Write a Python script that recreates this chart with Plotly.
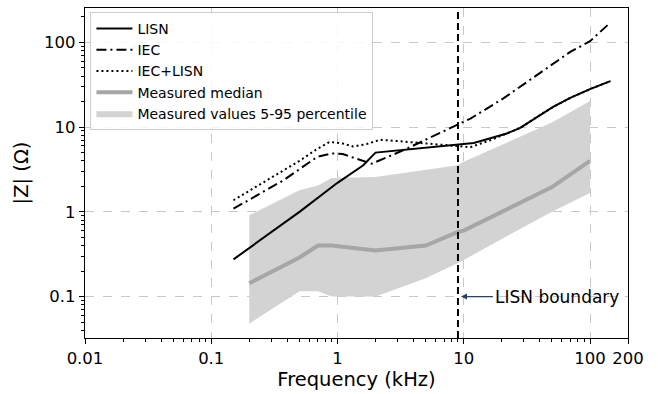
import numpy as np
import plotly.graph_objects as go

# ---- data ----
freq_lisn = [0.15, 0.5, 1.0, 1.6, 2.0, 4.0, 8.0, 12.0, 16.0, 21.9, 28.0, 37.9, 51.0, 69.7, 100.0, 145.0]
z_lisn = [0.275, 1.0, 2.2, 3.55, 5.0, 5.5, 6.1, 6.5, 7.35, 8.4, 9.8, 13.2, 17.3, 22.1, 28.1, 34.9]

freq_iec = [0.15, 0.37, 0.69, 0.9, 1.1, 1.33, 1.87, 3.3, 6.5, 9.1, 11.3, 20.6, 37.9, 69.7, 100.0, 140.0]
z_iec = [1.09, 2.34, 4.45, 4.9, 4.8, 4.4, 3.7, 5.3, 8.5, 10.8, 12.6, 21.8, 41.0, 77.0, 103.0, 163.0]

freq_iec_lisn = [0.15, 0.5, 0.7, 0.87, 1.1, 1.33, 1.7, 2.18, 4.5, 8.2, 11.3, 16.2, 21.9, 28.0, 37.9, 51.0, 69.7, 100.0, 145.0]
z_iec_lisn = [1.37, 4.0, 5.6, 6.7, 6.4, 5.9, 6.3, 7.1, 6.5, 6.1, 5.8, 7.0, 8.35, 9.75, 13.15, 17.25, 22.05, 28.05, 34.85]

freq_meas = [0.2, 0.5, 0.7, 0.9, 2.0, 5.0, 9.0, 10.0, 20.0, 50.0, 100.0]
z_median = [0.144, 0.29, 0.40, 0.40, 0.35, 0.40, 0.58, 0.60, 1.0, 1.96, 4.0]
z_p05 = [0.048, 0.116, 0.116, 0.10, 0.10, 0.165, 0.25, 0.27, 0.48, 1.0, 1.67]
z_p95 = [0.91, 1.8, 2.05, 2.5, 2.58, 3.1, 3.55, 3.9, 6.2, 11.3, 20.3]

lisn_boundary_khz = 9.0
boundary_label_y = 0.1
boundary_label_x = 17.0

x_tick_vals = [0.01, 0.1, 1, 10, 100, 200]
x_tick_text = ["0.01", "0.1", "1", "10", "100", "200"]
y_tick_vals = [0.1, 1, 10, 100]
y_tick_text = ["0.1", "1", "10", "100"]

x_range = [0.01, 200]
y_range = [0.0325, 254]

FONT = "DejaVu Sans"

fig = go.Figure()

# percentile band
fig.add_trace(go.Scatter(x=freq_meas, y=z_p05, mode="lines", line=dict(width=0, color="#d3d3d3"),
                         showlegend=False, hoverinfo="skip"))
fig.add_trace(go.Scatter(x=freq_meas, y=z_p95, mode="lines", line=dict(width=0, color="#d3d3d3"),
                         fill="tonexty", fillcolor="#d3d3d3",
                         name="Measured values 5-95 percentile", legendrank=5))
fig.add_trace(go.Scatter(x=freq_meas, y=z_median, mode="lines", line=dict(width=4, color="#a6a6a6"),
                         name="Measured median", legendrank=4))
fig.add_trace(go.Scatter(x=freq_iec_lisn, y=z_iec_lisn, mode="lines",
                         line=dict(width=2, color="black", dash="2px,3px"),
                         name="IEC+LISN", legendrank=3))
fig.add_trace(go.Scatter(x=freq_iec, y=z_iec, mode="lines",
                         line=dict(width=2, color="black", dash="10px,4px,2px,4px"),
                         name="IEC", legendrank=2))
fig.add_trace(go.Scatter(x=freq_lisn, y=z_lisn, mode="lines", line=dict(width=2, color="black"),
                         name="LISN", legendrank=1))

# LISN boundary
fig.add_shape(type="line", xref="x", yref="paper", x0=lisn_boundary_khz, x1=lisn_boundary_khz,
              y0=0, y1=1, line=dict(color="black", width=2, dash="7px,4px"))
fig.add_annotation(x=np.log10(lisn_boundary_khz), y=np.log10(boundary_label_y),
                   ax=np.log10(boundary_label_x), ay=np.log10(boundary_label_y),
                   axref="x", ayref="y", xref="x", yref="y",
                   text="LISN boundary", showarrow=True, arrowhead=2, arrowsize=1, arrowwidth=1.2,
                   standoff=3, xanchor="left", yanchor="middle",
                   font=dict(family=FONT, size=17, color="black"))

minor_x = [m * 10.0 ** e for e in range(-2, 3) for m in range(2, 10) if m * 10.0 ** e < 200]
minor_y = [m * 10.0 ** e for e in range(-2, 3) for m in range(2, 10) if y_range[0] < m * 10.0 ** e < y_range[1]]

axis_common = dict(type="log", showline=True, linecolor="black", linewidth=1.2, mirror=True,
                   ticks="outside", ticklen=5, tickcolor="black", tickwidth=1,
                   showgrid=True, gridcolor="#c8c8c8", griddash="dash", gridwidth=1,
                   zeroline=False, tickfont=dict(family=FONT, size=16.5, color="black"))

fig.update_xaxes(**axis_common, range=[np.log10(x_range[0]), np.log10(x_range[1])],
                 tickmode="array", tickvals=x_tick_vals, ticktext=x_tick_text,
                 minor=dict(tickmode="array", tickvals=minor_x, ticks="outside", ticklen=2.5,
                            tickcolor="black", showgrid=False),
                 title=dict(text="Frequency (kHz)", font=dict(family=FONT, size=19.5, color="black"),
                            standoff=4))
fig.update_yaxes(**axis_common, range=[np.log10(y_range[0]), np.log10(y_range[1])],
                 tickmode="array", tickvals=y_tick_vals, ticktext=y_tick_text,
                 minor=dict(tickmode="array", tickvals=minor_y, ticks="outside", ticklen=2.5,
                            tickcolor="black", showgrid=False),
                 title=dict(text="|Z| (Ω)", font=dict(family=FONT, size=19.5, color="black"),
                            standoff=10))

fig.update_layout(
    width=658, height=394,
    margin=dict(l=85, r=30, t=8, b=56),
    plot_bgcolor="white", paper_bgcolor="white",
    font=dict(family=FONT, color="black"),
    legend=dict(x=0.01, y=0.988, xanchor="left", yanchor="top",
                bgcolor="rgba(255,255,255,0.85)", bordercolor="#cccccc", borderwidth=1,
                font=dict(family=FONT, size=14, color="black"),
                itemwidth=36, tracegroupgap=0, traceorder="normal"),
)

fig.write_html("out.html")
